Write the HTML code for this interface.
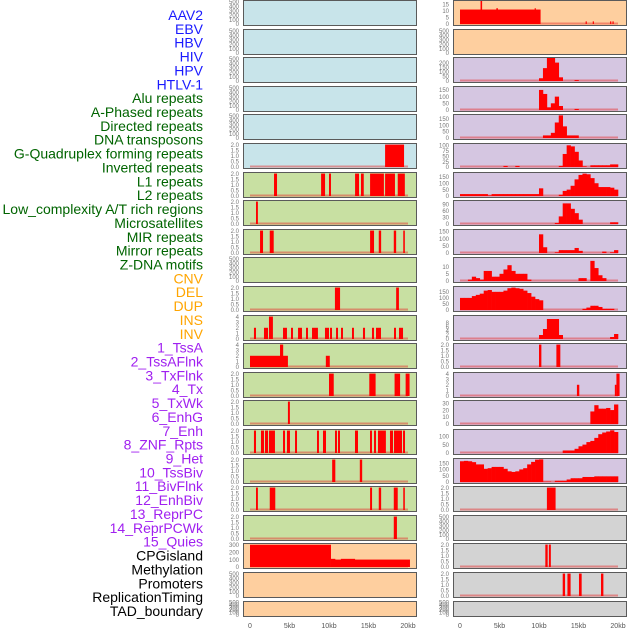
<!DOCTYPE html>
<html><head><meta charset="utf-8"><style>
html,body{margin:0;padding:0;background:#fff;}
svg{display:block;font-family:"Liberation Sans",sans-serif;}
</style></head><body>
<svg id="chart" width="630" height="630" viewBox="0 0 630 630"></svg>
<script>
const labels = ["AAV2","EBV","HBV","HIV","HPV","HTLV-1","Alu repeats","A-Phased repeats","Directed repeats","DNA transposons","G-Quadruplex forming repeats","Inverted repeats","L1 repeats","L2 repeats","Low_complexity A/T rich regions","Microsatellites","MIR repeats","Mirror repeats","Z-DNA motifs","CNV","DEL","DUP","INS","INV","1_TssA","2_TssAFlnk","3_TxFlnk","4_Tx","5_TxWk","6_EnhG","7_Enh","8_ZNF_Rpts","9_Het","10_TssBiv","11_BivFlnk","12_EnhBiv","13_ReprPC","14_ReprPCWk","15_Quies","CPGisland","Methylation","Promoters","ReplicationTiming","TAD_boundary"];
const groups = ["virus","virus","virus","virus","virus","virus","repeat","repeat","repeat","repeat","repeat","repeat","repeat","repeat","repeat","repeat","repeat","repeat","repeat","sv","sv","sv","sv","sv","chrom","chrom","chrom","chrom","chrom","chrom","chrom","chrom","chrom","chrom","chrom","chrom","chrom","chrom","chrom","other","other","other","other","other"];
const xTickLabels = ["0","5kb","10kb","15kb","20kb"];
const xTickValues = [0,5,10,15,20];
const ticks500 = [0,100,200,300,400,500];
const ticks2 = [0,0.5,1,1.5,2];
const ticks4 = [0,1,2,3,4];
const panelTicks = [ticks500,ticks500,ticks500,ticks500,ticks500,ticks2,ticks2,ticks2,ticks2,ticks500,ticks2,ticks4,ticks4,ticks2,ticks2,ticks2,ticks2,ticks2,ticks2,[0,100,200,300],ticks500,ticks500,
 [0,5,10,15],ticks500,[0,50,100,150,200],[0,50,100,150],[0,50,100,150],[0,25,50,75,100],[0,50,100,150],[0,30,60,90],[0,50,100,150],[0,5,10],[0,50,100,150],[0,2,4,6,8],ticks2,ticks4,[0,10,20,30],[0,50,100],[0,50,100,150],ticks2,ticks500,ticks2,ticks2,ticks500];
const panelMax = [520,520,520,520,520,2.05,2.05,2.05,2.05,520,2.05,4.1,4.1,2.05,2.05,2.05,2.05,2.05,2.05,310,520,520,
 17.5,520,250,172,178,106,180,106,160,16,190,11.5,2.05,4.1,33,137,183,2.05,520,2.05,2.05,520];
const segsHTLV = [[17.1,19.5,2]];
const segsAlu = [[3.04,3.42,2],[9.0,9.5,2],[10.0,10.25,2],[13.3,13.8,2],[14.05,14.4,2],[15.2,16.95,2],[17.1,18.35,2],[18.7,19.6,2]];
const segsAPhased = [[0.76,1.0,2]];
const segsDirected = [[1.27,1.65,2],[2.5,3.0,2],[15.2,15.7,2],[16.3,16.6,2],[18.2,18.5,2],[19.4,19.6,2]];
const segsGQuad = [[10.75,11.4,2],[18.5,18.85,2]];
const segsInverted = [[0.5,0.76,2],[1.77,2.28,2],[2.4,2.9,4],[4.18,4.68,2],[5.19,5.44,2],[6.08,6.58,2],[7.09,7.34,2],[7.85,8.6,2],[9.49,10.0,2],[10.13,10.38,2],[10.89,11.14,2],[11.52,11.77,2],[12.91,13.16,2],[14.3,14.56,2],[15.44,15.7,2],[15.95,16.58,2],[18.23,18.48,2],[18.86,19.37,2]];
const segsL1 = [[0,4.8,2],[3.8,4.2,4],[9.6,10.1,2]];
const segsL2 = [[10.0,10.6,2],[15.1,15.9,2],[18.3,19.0,2],[19.7,20.2,2]];
const segsLowCx = [[4.8,5.05,2]];
const segsMicro = [[0.5,0.76,2],[1.39,1.77,2],[1.9,2.28,2],[2.4,3.16,2],[4.18,4.43,2],[4.68,5.06,2],[5.7,5.95,2],[8.48,8.73,2],[9.24,9.62,2],[10.76,11.01,2],[11.14,11.39,2],[13.29,13.67,2],[15.19,15.44,2],[15.7,15.95,2],[16.2,17.2,2],[17.72,18.1,2],[18.23,19.24,2],[19.37,19.62,2]];
const segsMIR = [[10.4,10.8,2],[13.9,14.2,2]];
const segsMirror = [[0.76,1.0,2],[2.5,3.2,2],[15.2,15.45,2],[16.3,16.6,2],[18.2,18.7,2],[19.4,19.6,2]];
const segsZDNA = [[18.2,18.6,2]];
const segsCNV = [[0,10.25,300],[10.25,20.25,100],[10.25,10.8,110],[11.5,13.3,110]];
const segsINS = [[0,10.2,11],[2.6,2.8,18],[4.6,4.8,12],[9.45,9.6,12],[15.9,16.05,2],[16.8,16.95,2],[19.0,19.15,2],[19.3,19.45,2]];
const segsBivFlnk = [[10.0,10.3,2],[12.2,12.7,2]];
const segsEnhBiv = [[14.8,15.1,2],[19.6,19.8,2],[19.8,20.2,4]];
const segsCPG = [[11.0,12.1,2]];
const segsPromoters = [[10.8,11.1,2],[11.25,11.5,2]];
const segsRepTiming = [[13.0,13.3,2],[13.6,14.0,2],[15.06,15.4,2],[17.85,18.15,2]];
const binsTssA = [0,0,0,0,0,0,0,0,0,0,0,0,0,0,0,0,0,0,0,0,30,140,250,250,200,40,0,0,0,10,0,0,0,0,0,0,0,0,0,0];
const binsTssAFlnk = [0,0,0,0,0,0,0,0,0,0,0,0,0,0,0,0,0,0,0,0,150,120,20,50,100,30,0,0,0,8,0,0,0,0,0,0,0,0,0,0];
const binsTxFlnk = [0,0,0,0,0,0,0,0,0,0,0,0,0,0,0,0,0,0,0,0,0,20,20,40,120,175,90,20,20,20,0,0,0,0,0,0,0,0,0,0];
const binsTx = [0,0,0,0,0,0,0,0,0,0,0,5,0,0,5,0,0,0,0,0,0,0,0,0,0,5,60,100,95,70,30,3,0,8,8,8,8,8,12,12];
const binsTxWk = [15,15,15,15,15,15,15,5,15,15,15,15,15,15,15,15,15,15,15,15,60,0,0,0,0,10,40,50,80,130,165,175,170,140,100,70,70,70,65,50];
const binsEnhG = [0,0,0,0,0,0,0,0,0,0,0,0,0,0,0,0,0,0,0,0,0,0,0,0,5,35,95,95,70,50,20,0,0,0,0,0,0,0,8,8];
const binsEnh = [0,0,0,0,0,0,0,0,0,0,0,0,0,0,0,0,0,0,0,0,130,40,0,0,5,20,20,20,20,35,15,0,0,0,0,0,10,0,5,20];
const binsZNF = [0,0,1,3,2,1,7,7,3,3,5,8,11,7,5,5,5,1,0,0,0,0,0,0,0,0,0,0,0,0,2,2,0,14,9,4,2,0,0,0];
const binsHet = [100,100,100,115,125,135,160,165,150,150,150,160,180,185,180,175,160,140,110,90,80,0,0,0,0,0,0,0,0,0,0,10,20,35,35,25,10,10,10,0];
const binsTssBiv = [0,0,0,0,0,0,0,0,0,0,0,0,0,0,0,0,0,0,0,0,2,5,10,10,10,2,0,0,0,0,0,0,0,0,0,0,0,0,1,2.5];
const binsReprPC = [0,0,0,0,0,0,0,0,0,0,0,0,0,0,0,0,0,0,0,0,0,0,0,0,0,0,0,0,0,0,0,0,0,18,27,22,22,23,20,28];
const binsReprPCWk = [0,0,0,0,0,0,0,0,0,0,0,0,0,0,0,0,0,0,0,0,0,0,0,0,0,0,15,15,15,25,40,50,65,72,90,112,122,128,135,125];
const binsQuies = [165,168,165,158,140,140,105,110,120,120,120,105,85,80,85,100,110,140,160,178,180,3,3,0,10,10,10,20,30,30,30,40,40,40,45,45,45,45,45,45];

const panelSegs = {5:segsHTLV,6:segsAlu,7:segsAPhased,8:segsDirected,10:segsGQuad,11:segsInverted,12:segsL1,13:segsL2,14:segsLowCx,15:segsMicro,16:segsMIR,17:segsMirror,18:segsZDNA,19:segsCNV,22:segsINS,34:segsBivFlnk,35:segsEnhBiv,39:segsCPG,41:segsPromoters,42:segsRepTiming};
const panelBins = {24:binsTssA,25:binsTssAFlnk,26:binsTxFlnk,27:binsTx,28:binsTxWk,29:binsEnhG,30:binsEnh,31:binsZNF,32:binsHet,33:binsTssBiv,36:binsReprPC,37:binsReprPCWk,38:binsQuies};

const NS = "http://www.w3.org/2000/svg";
const svg = document.getElementById('chart');
function mk(tag, attrs, parent){const e=document.createElementNS(NS,tag);for(const k in attrs)e.setAttribute(k,attrs[k]);(parent||svg).appendChild(e);return e;}
const labelColor = {virus:"#1a1aff",repeat:"#006400",sv:"#ffa500",chrom:"#a020f0",other:"#000000"};
const bgColor = {virus:"#c8e4ea",repeat:"#c8e0a2",sv:"#fecf9f",chrom:"#d5c6e1",other:"#d3d3d3"};

labels.forEach((t,i)=>{
  const el = mk('text',{x:203,y:20+13.86*i,'text-anchor':'end','font-size':'14',fill:labelColor[groups[i]]});
  
  
  el.textContent = t;
});

const colLeft = [243,453];
const W = 173;
const kbPx = 7.9;
for(let p=0;p<44;p++){
  const col = p<22?0:1, row = p%22;
  const left = colLeft[col];
  const top = Math.round(28.6*row);
  const h = row===21?15:25;
  const x0 = left+7;
  const xs = kb => x0 + kb*kbPx;
  const yb = top+h-1, yt = top+1;
  const ys = v => yb - (v/panelMax[p])*(yb-yt);
  const g = mk('g',{});
  
  
  mk('rect',{x:left+0.5,y:top+0.5,width:W,height:h,fill:bgColor[groups[p]],stroke:'none'},g);
  const hasData = panelSegs[p]||panelBins[p];
  if(hasData){
    mk('line',{x1:xs(0),x2:xs(20),y1:yb-0.5,y2:yb-0.5,stroke:'rgba(230,40,40,0.45)','stroke-width':2},g);
  }
  if(panelBins[p]){
    panelBins[p].forEach((v,i)=>{
      if(v<=0) return;
      const r = mk('rect',{x:xs(i*0.5),y:ys(v),width:0.5*kbPx+0.3,height:yb-ys(v),fill:'#ff0000'},g);
      
      
    });
  }
  if(panelSegs[p]){
    panelSegs[p].forEach(s=>{
      const r = mk('rect',{x:xs(s[0]),y:ys(s[2]),width:Math.max(1.2,(s[1]-s[0])*kbPx),height:yb-ys(s[2]),fill:'#ff0000'},g);
      
      
    });
  }
  mk('rect',{x:left+0.5,y:top+0.5,width:W,height:h,fill:'none',stroke:'#5a5a5a','stroke-width':1},g);
  const tg = mk('g',{},g);
  
  
  panelTicks[p].forEach(t=>{
    const lbl = (panelTicks[p]===ticks2)? t.toFixed(1) : String(t);
    const te = mk('text',{x:left-4,y:ys(t)+2.2,'text-anchor':'end','font-size':'6',fill:'#777'},tg);
    te.textContent = lbl;
  });
}
for(let c=0;c<2;c++){
  const x0 = colLeft[c]+7;
  const ax = mk('g',{});
  
  
  xTickValues.forEach((v,i)=>{
    const te = mk('text',{x:x0+v*kbPx,y:628,'text-anchor':'middle','font-size':'7',fill:'#555'},ax);
    te.textContent = xTickLabels[i];
  });
}
</script>
</body></html>
